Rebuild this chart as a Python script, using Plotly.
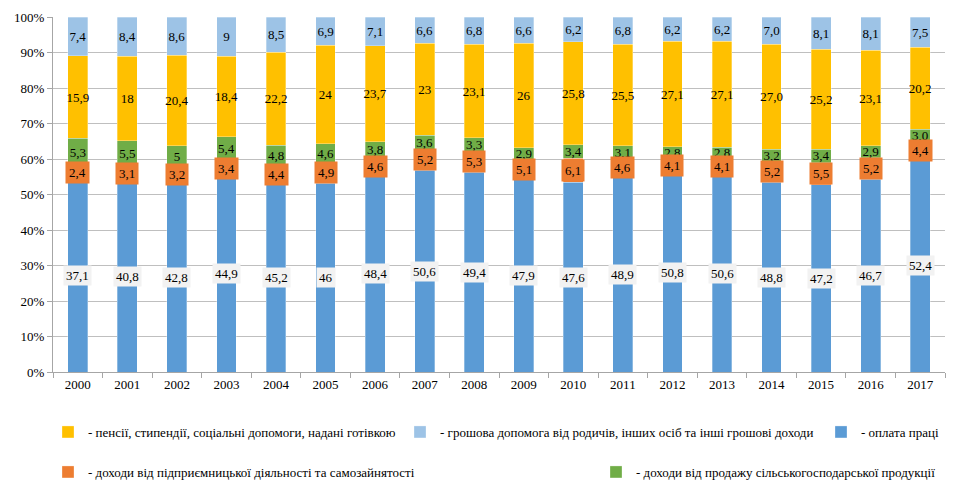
import plotly.graph_objects as go

years = [str(y) for y in range(2000, 2018)]

# labels exactly as printed on the chart (comma decimal)
wages = ['37,1', '40,8', '42,8', '44,9', '45,2', '46', '48,4', '50,6', '49,4',
         '47,9', '47,6', '48,9', '50,8', '50,6', '48,8', '47,2', '46,7', '52,4']
business = ['2,4', '3,1', '3,2', '3,4', '4,4', '4,9', '4,6', '5,2', '5,3',
            '5,1', '6,1', '4,6', '4,1', '4,1', '5,2', '5,5', '5,2', '4,4']
farm = ['5,3', '5,5', '5', '5,4', '4,8', '4,6', '3,8', '3,6', '3,3',
        '2,9', '3,4', '3,1', '2,8', '2,8', '3,2', '3,4', '2,9', '3,0']
pensions = ['15,9', '18', '20,4', '18,4', '22,2', '24', '23,7', '23', '23,1',
            '26', '25,8', '25,5', '27,1', '27,1', '27,0', '25,2', '23,1', '20,2']
transfers = ['7,4', '8,4', '8,6', '9', '8,5', '6,9', '7,1', '6,6', '6,8',
             '6,6', '6,2', '6,8', '6,2', '6,2', '7,0', '8,1', '8,1', '7,5']


def num(lst):
    return [float(s.replace(',', '.')) for s in lst]


font = 'Liberation Serif, Times New Roman, serif'

# (name, labels, colour, legend)
series = [
    ('- оплата праці', wages, '#5B9BD5', 'legend3'),
    ('- доходи від підприємницької діяльності та самозайнятості', business, '#ED7D31', 'legend4'),
    ('- доходи від продажу сільськогосподарської продукції', farm, '#70AD47', 'legend5'),
    ('- пенсії, стипендії, соціальні допомоги, надані готівкою', pensions, '#FFC000', 'legend'),
    ('- грошова допомога від родичів, інших осіб та інші грошові доходи', transfers, '#9DC3E6', 'legend2'),
]

fig = go.Figure()
for name, lab, col, leg in series:
    boxed = lab is wages or lab is business
    fig.add_trace(go.Bar(
        x=years, y=num(lab), name=name,
        marker=dict(color=col, line=dict(color='rgba(255,255,255,0.6)', width=0.5)),
        text=None if boxed else lab,
        texttemplate=None if boxed else '%{text}',
        textposition='inside', insidetextanchor='middle',
        constraintext='none', textangle=0,
        textfont=dict(family=font, size=13, color='black'),
        width=0.4, legend=leg, showlegend=True,
    ))

# labels with a background box for the two bottom series
totals = [sum(v) for v in zip(*[num(s[1]) for s in series])]
for i, yr in enumerate(years):
    w = num(wages)[i] / totals[i] * 100
    b = num(business)[i] / totals[i] * 100
    # category index, not the year string (which plotly would read as a number)
    fig.add_annotation(x=i, y=w / 2, text=wages[i], showarrow=False,
                       bgcolor='#F2F2F2', borderpad=2,
                       font=dict(family=font, size=13, color='black'))
    fig.add_annotation(x=i, y=w + b / 2, text=business[i], showarrow=False,
                       bgcolor='#ED7D31', borderpad=3,
                       font=dict(family=font, size=13, color='black'))

# page body has an 8px margin, so the figure is 8px smaller and shifted
W, H = 950, 473
leg_common = dict(xref='container', yref='container', xanchor='left', yanchor='middle',
                  bgcolor='rgba(0,0,0,0)', font=dict(family=font, size=13, color='black'),
                  itemwidth=30)
row1 = 1 - 424 / H
row2 = 1 - 464 / H
fig.update_layout(
    barmode='stack', barnorm='percent',
    width=W, height=H, showlegend=True,
    margin=dict(l=45, r=13, t=9, b=109, autoexpand=False),
    plot_bgcolor='white', paper_bgcolor='white',
    font=dict(family=font, size=13, color='black'),
    legend=dict(x=40 / W, y=row1, **leg_common),
    legend2=dict(x=392 / W, y=row1, **leg_common),
    legend3=dict(x=813 / W, y=row1, **leg_common),
    legend4=dict(x=40 / W, y=row2, **leg_common),
    legend5=dict(x=588 / W, y=row2, **leg_common),
)
fig.update_yaxes(range=[0, 100], dtick=10, ticksuffix='%', showgrid=True,
                 gridcolor='#BFBFBF', showline=True, linecolor='#A6A6A6',
                 ticks='outside', ticklen=5, tickcolor='#A6A6A6', zeroline=False,
                 tickfont=dict(family=font, size=13))
fig.update_xaxes(type='category', showline=True, linecolor='#A6A6A6', ticks='outside',
                 tickson='boundaries', ticklen=5, tickcolor='#A6A6A6',
                 tickfont=dict(family=font, size=13))

fig.write_html('out.html')
